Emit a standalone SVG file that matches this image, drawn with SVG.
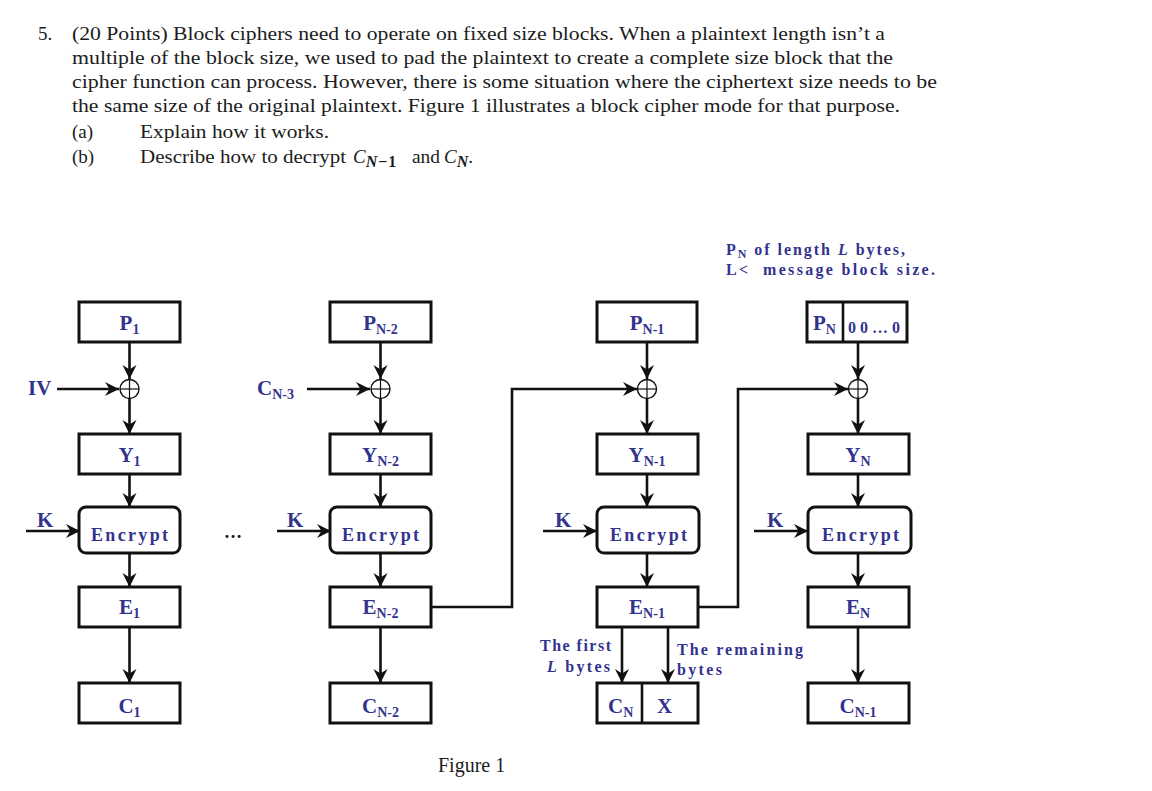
<svg xmlns="http://www.w3.org/2000/svg" width="1152" height="791" viewBox="0 0 1152 791">
<defs>
<style>
.q { font-family:"Liberation Serif","Times New Roman",serif; font-size:19px; fill:#1c1c1c; }
.m { font-family:"Liberation Serif","Times New Roman",serif; font-style:italic; font-size:19px; fill:#1c1c1c; }
.box { fill:#fff; stroke:#111; stroke-width:3; }
.ln { fill:none; stroke:#111; stroke-width:2.6; }
.xor { fill:#fff; stroke:#111; stroke-width:1.4; }
.xp { stroke:#111; stroke-width:1.2; }
.lb { font-family:"Liberation Serif","Times New Roman",serif; font-weight:bold; font-size:21px; fill:#33338f; }
.sb { font-size:14px; }
.enc { font-family:"Liberation Serif","Times New Roman",serif; font-weight:bold; font-size:18px; fill:#33338f; }
.an { font-family:"Liberation Serif","Times New Roman",serif; font-weight:bold; font-size:16px; fill:#33338f; }
</style>
<marker id="ah" markerUnits="userSpaceOnUse" markerWidth="15" markerHeight="15" refX="14" refY="7.5" orient="auto">
<path d="M0,0.5 L14,7.5 L0,14.5 L4.5,7.5 z" fill="#111"/>
</marker>
</defs>
<rect width="1152" height="791" fill="#fff"/>

<g id="question">
<text class="q" x="38" y="40">5.</text>
<text class="q" x="72" y="40" textLength="813" lengthAdjust="spacingAndGlyphs">(20 Points) Block ciphers need to operate on fixed size blocks. When a plaintext length isn’t a</text>
<text class="q" x="72" y="64" textLength="821" lengthAdjust="spacingAndGlyphs">multiple of the block size, we used to pad the plaintext to create a complete size block that the</text>
<text class="q" x="72" y="88" textLength="865" lengthAdjust="spacingAndGlyphs">cipher function can process. However, there is some situation where the ciphertext size needs to be</text>
<text class="q" x="72" y="112" textLength="828" lengthAdjust="spacingAndGlyphs">the same size of the original plaintext. Figure 1 illustrates a block cipher mode for that purpose.</text>
<text class="q" x="72" y="138">(a)</text>
<text class="q" x="140" y="138" textLength="189" lengthAdjust="spacingAndGlyphs">Explain how it works.</text>
<text class="q" x="72" y="163">(b)</text>
<text class="q" x="140" y="163" textLength="206" lengthAdjust="spacingAndGlyphs">Describe how to decrypt</text>
<text class="m" x="353" y="163">C<tspan font-size="16" font-weight="bold" dy="4" letter-spacing="1">N<tspan font-style="normal">−1</tspan></tspan></text>
<text class="q" x="412" y="163" textLength="28" lengthAdjust="spacingAndGlyphs">and</text>
<text class="m" x="444" y="163">C<tspan font-size="16" font-weight="bold" dy="4">N</tspan><tspan font-style="normal" font-size="19" dy="-4">.</tspan></text>
</g>

<g id="connectors">
<line class="ln" x1="129.5" y1="342" x2="129.5" y2="379" marker-end="url(#ah)"/>
<line class="ln" x1="129.5" y1="399" x2="129.5" y2="434" marker-end="url(#ah)"/>
<line class="ln" x1="129.5" y1="474" x2="129.5" y2="507" marker-end="url(#ah)"/>
<line class="ln" x1="129.5" y1="553" x2="129.5" y2="587" marker-end="url(#ah)"/>
<line class="ln" x1="129.5" y1="627" x2="129.5" y2="683" marker-end="url(#ah)"/>
<line class="ln" x1="57" y1="389" x2="119" y2="389" marker-end="url(#ah)"/>
<line class="ln" x1="26" y1="531" x2="80" y2="531" marker-end="url(#ah)"/>
<line class="ln" x1="380.5" y1="342" x2="380.5" y2="379" marker-end="url(#ah)"/>
<line class="ln" x1="380.5" y1="399" x2="380.5" y2="434" marker-end="url(#ah)"/>
<line class="ln" x1="380.5" y1="474" x2="380.5" y2="507" marker-end="url(#ah)"/>
<line class="ln" x1="380.5" y1="553" x2="380.5" y2="587" marker-end="url(#ah)"/>
<line class="ln" x1="380.5" y1="627" x2="380.5" y2="683" marker-end="url(#ah)"/>
<line class="ln" x1="307" y1="389" x2="370" y2="389" marker-end="url(#ah)"/>
<line class="ln" x1="277" y1="531" x2="331" y2="531" marker-end="url(#ah)"/>
<line class="ln" x1="647" y1="342" x2="647" y2="379" marker-end="url(#ah)"/>
<line class="ln" x1="647" y1="399" x2="647" y2="434" marker-end="url(#ah)"/>
<line class="ln" x1="647" y1="474" x2="647" y2="507" marker-end="url(#ah)"/>
<line class="ln" x1="647" y1="553" x2="647" y2="587" marker-end="url(#ah)"/>
<line class="ln" x1="622" y1="627" x2="622" y2="683" marker-end="url(#ah)"/>
<line class="ln" x1="668" y1="627" x2="668" y2="683" marker-end="url(#ah)"/>
<line class="ln" x1="543" y1="531" x2="597" y2="531" marker-end="url(#ah)"/>
<polyline class="ln" points="431,607 512,607 512,389 637,389" marker-end="url(#ah)"/>
<line class="ln" x1="858" y1="342" x2="858" y2="379" marker-end="url(#ah)"/>
<line class="ln" x1="858" y1="399" x2="858" y2="434" marker-end="url(#ah)"/>
<line class="ln" x1="858" y1="474" x2="858" y2="507" marker-end="url(#ah)"/>
<line class="ln" x1="858" y1="553" x2="858" y2="587" marker-end="url(#ah)"/>
<line class="ln" x1="858" y1="627" x2="858" y2="683" marker-end="url(#ah)"/>
<line class="ln" x1="754" y1="531" x2="808" y2="531" marker-end="url(#ah)"/>
<polyline class="ln" points="698,607 738,607 738,389 848,389" marker-end="url(#ah)"/>
</g>

<g id="P1"><rect class="box" x="79" y="302" width="101" height="40"/><text class="lb" x="129.5" y="330" text-anchor="middle">P<tspan class="sb" dy="4">1</tspan></text></g>
<g id="xor1"><circle class="xor" cx="129.5" cy="389" r="9.5"/><line class="xp" x1="120" y1="389" x2="139" y2="389"/><line class="xp" x1="129.5" y1="379.5" x2="129.5" y2="398.5"/></g>
<g id="IV"><text class="lb" x="28" y="395">IV</text></g>
<g id="Y1"><rect class="box" x="79" y="434" width="101" height="40"/><text class="lb" x="129.5" y="462" text-anchor="middle">Y<tspan class="sb" dy="4">1</tspan></text></g>
<g id="K1"><text class="lb" x="37" y="527">K</text></g>
<g id="Enc1"><rect class="box" x="79" y="507" width="101" height="46" rx="7"/><text class="enc" x="91" y="541" textLength="77" lengthAdjust="spacing">Encrypt</text></g>
<g id="E1"><rect class="box" x="79" y="587" width="101" height="40"/><text class="lb" x="129.5" y="614" text-anchor="middle">E<tspan class="sb" dy="4">1</tspan></text></g>
<g id="C1"><rect class="box" x="79" y="683" width="101" height="40"/><text class="lb" x="129.5" y="713" text-anchor="middle">C<tspan class="sb" dy="4">1</tspan></text></g>

<g id="dots"><text x="233" y="538" text-anchor="middle" font-family="Liberation Serif, serif" font-weight="bold" font-size="18" fill="#111">…</text></g>

<g id="PN2"><rect class="box" x="330" y="302" width="101" height="40"/><text class="lb" x="380.5" y="330" text-anchor="middle">P<tspan class="sb" dy="4">N-2</tspan></text></g>
<g id="xor2"><circle class="xor" cx="380.5" cy="389" r="9.5"/><line class="xp" x1="371" y1="389" x2="390" y2="389"/><line class="xp" x1="380.5" y1="379.5" x2="380.5" y2="398.5"/></g>
<g id="CN3"><text class="lb" x="257" y="395">C<tspan class="sb" dy="4">N-3</tspan></text></g>
<g id="YN2"><rect class="box" x="330" y="434" width="101" height="40"/><text class="lb" x="380.5" y="462" text-anchor="middle">Y<tspan class="sb" dy="4">N-2</tspan></text></g>
<g id="K2"><text class="lb" x="287" y="527">K</text></g>
<g id="Enc2"><rect class="box" x="330" y="507" width="101" height="46" rx="7"/><text class="enc" x="342" y="541" textLength="77" lengthAdjust="spacing">Encrypt</text></g>
<g id="EN2"><rect class="box" x="330" y="587" width="101" height="40"/><text class="lb" x="380.5" y="614" text-anchor="middle">E<tspan class="sb" dy="4">N-2</tspan></text></g>
<g id="CN2"><rect class="box" x="330" y="683" width="101" height="40"/><text class="lb" x="380.5" y="713" text-anchor="middle">C<tspan class="sb" dy="4">N-2</tspan></text></g>

<g id="PN1"><rect class="box" x="597" y="302" width="100" height="40"/><text class="lb" x="647" y="330" text-anchor="middle">P<tspan class="sb" dy="4">N-1</tspan></text></g>
<g id="xor3"><circle class="xor" cx="647" cy="389" r="9.5"/><line class="xp" x1="637.5" y1="389" x2="656.5" y2="389"/><line class="xp" x1="647" y1="379.5" x2="647" y2="398.5"/></g>
<g id="YN1"><rect class="box" x="597" y="434" width="101" height="40"/><text class="lb" x="647" y="462" text-anchor="middle">Y<tspan class="sb" dy="4">N-1</tspan></text></g>
<g id="K3"><text class="lb" x="555" y="527">K</text></g>
<g id="Enc3"><rect class="box" x="597" y="507" width="102" height="46" rx="7"/><text class="enc" x="610" y="541" textLength="77" lengthAdjust="spacing">Encrypt</text></g>
<g id="EN1"><rect class="box" x="597" y="587" width="101" height="40"/><text class="lb" x="647" y="614" text-anchor="middle">E<tspan class="sb" dy="4">N-1</tspan></text></g>
<g id="first"><text class="an" x="540" y="651" textLength="71" lengthAdjust="spacing">The first</text><text class="an" x="547" y="672" textLength="63" lengthAdjust="spacing"><tspan font-style="italic">L</tspan> bytes</text></g>
<g id="remaining"><text class="an" x="677" y="655" textLength="126" lengthAdjust="spacing">The remaining</text><text class="an" x="677" y="675" textLength="45" lengthAdjust="spacing">bytes</text></g>
<g id="CNX"><rect class="box" x="597" y="683" width="101" height="40"/><line class="ln" x1="642" y1="683" x2="642" y2="723"/><text class="lb" x="608" y="713">C<tspan class="sb" dy="4">N</tspan></text><text class="lb" x="657" y="713">X</text></g>

<g id="note"><text class="an" x="726" y="255" textLength="179" lengthAdjust="spacing">P<tspan font-size="12" dy="3">N</tspan><tspan dy="-3"> of length </tspan><tspan font-style="italic">L</tspan> bytes,</text><text class="an" x="726" y="275" textLength="209" lengthAdjust="spacing">L&lt;&#160; message block size.</text></g>
<g id="PN"><rect class="box" x="807" y="302" width="100" height="40"/><line class="ln" x1="843" y1="302" x2="843" y2="342"/><text class="lb" x="813" y="330">P<tspan class="sb" dy="4">N</tspan></text><text class="an" x="848" y="333" textLength="52" lengthAdjust="spacing">00…0</text></g>
<g id="xor4"><circle class="xor" cx="858" cy="389" r="9.5"/><line class="xp" x1="848.5" y1="389" x2="867.5" y2="389"/><line class="xp" x1="858" y1="379.5" x2="858" y2="398.5"/></g>
<g id="YN"><rect class="box" x="808" y="434" width="101" height="40"/><text class="lb" x="858" y="462" text-anchor="middle">Y<tspan class="sb" dy="4">N</tspan></text></g>
<g id="K4"><text class="lb" x="767" y="527">K</text></g>
<g id="Enc4"><rect class="box" x="808" y="507" width="103" height="46" rx="7"/><text class="enc" x="822" y="541" textLength="77" lengthAdjust="spacing">Encrypt</text></g>
<g id="EN"><rect class="box" x="808" y="587" width="101" height="40"/><text class="lb" x="858" y="614" text-anchor="middle">E<tspan class="sb" dy="4">N</tspan></text></g>
<g id="CN1"><rect class="box" x="808" y="683" width="101" height="40"/><text class="lb" x="858" y="713" text-anchor="middle">C<tspan class="sb" dy="4">N-1</tspan></text></g>

<g id="caption"><text class="q" x="438" y="772" style="font-size:20px">Figure 1</text></g>
</svg>
